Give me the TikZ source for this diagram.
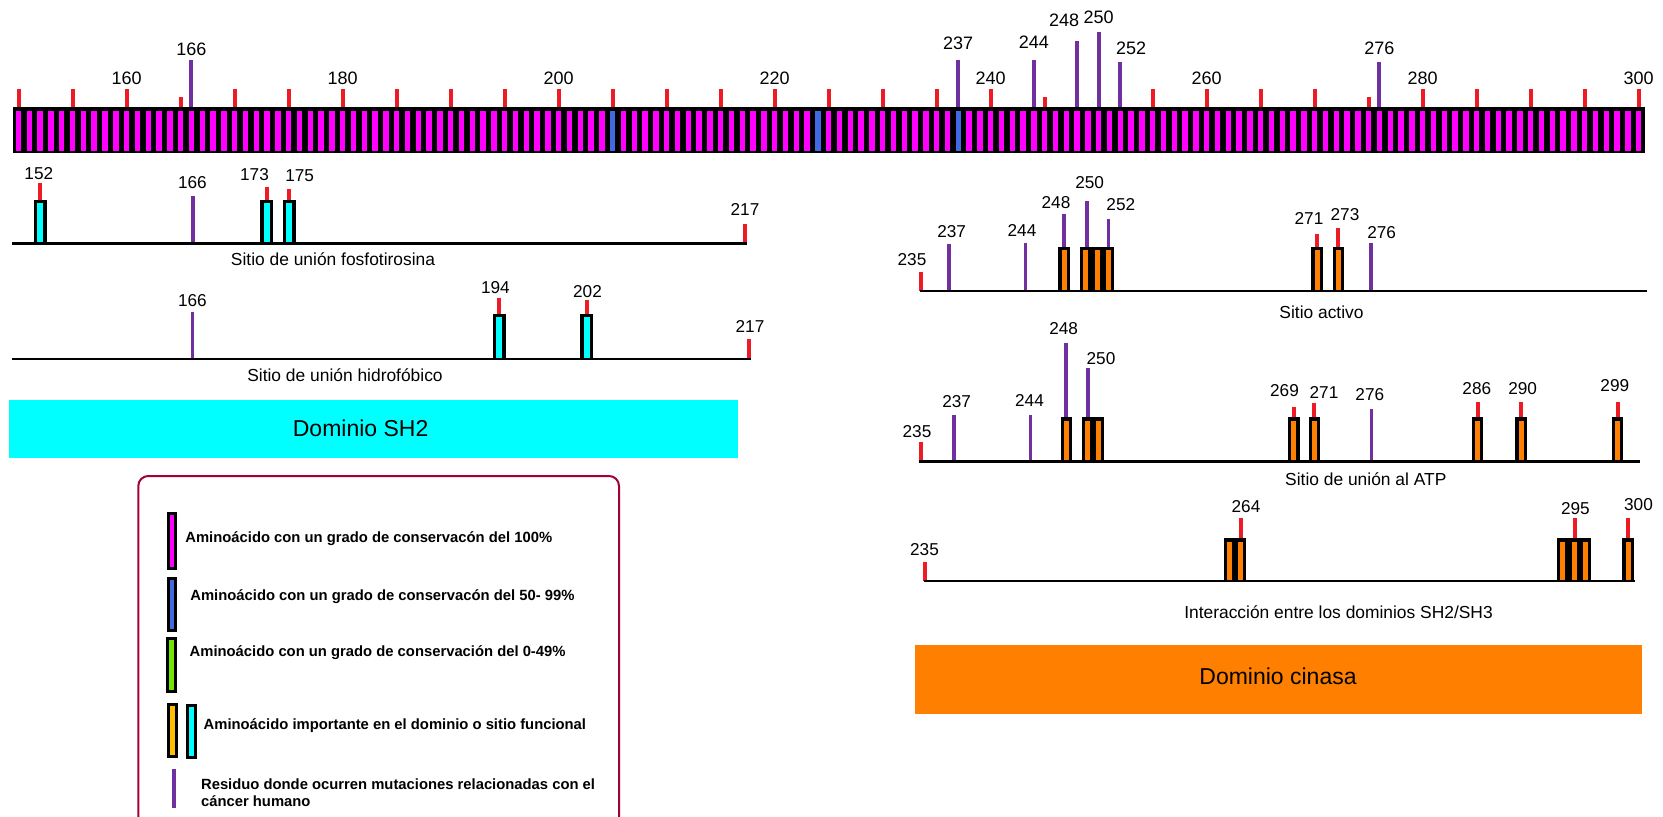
\documentclass[tikz,border=0pt]{standalone}
\usepackage{fontspec}
\setmainfont{Liberation Sans}
\definecolor{consmagenta}{RGB}{255,0,255}
\definecolor{consblue}{RGB}{65,105,225}
\definecolor{consgreen}{RGB}{110,230,0}
\definecolor{tickred}{RGB}{237,28,36}
\definecolor{mutpurple}{RGB}{112,48,160}
\definecolor{sitecyan}{RGB}{0,255,255}
\definecolor{siteorange}{RGB}{255,128,0}
\definecolor{legendorange}{RGB}{255,190,0}
\definecolor{legendframe}{RGB}{163,0,55}

\begin{document}
\begin{tikzpicture}[
  x=0.5pt, y=-0.5pt,
  topnum/.style={font=\fontsize{9}{10.5}\selectfont, inner sep=0pt},
  numlabel/.style={font=\fontsize{8.6}{10}\selectfont, inner sep=0pt},
  captext/.style={font=\fontsize{8.7}{10}\selectfont, inner sep=0pt},
  domainlabel/.style={font=\fontsize{11.5}{13}\selectfont, inner sep=0pt},
  legtext/.style={font=\fontsize{7.4}{8.7}\selectfont\bfseries, inner sep=0pt, anchor=west, align=left},
  redtick/.style={draw=tickred, line width=2pt},
  mut/.style={draw=mutpurple, line width=1.75pt},
  axisline/.style={line width=1.4pt}
]
\useasboundingbox (0,0) rectangle (1663,817);

\begin{scope}[x=5.4pt, xshift=-800.7pt]
\fill (149.44,107) rectangle (300.6,153.5);
\foreach \r in {150,...,300} \fill[consmagenta] (\r-0.25,111) rectangle (\r+0.25,151);
\foreach \r in {205,224,237} \fill[consblue] (\r-0.25,111) rectangle (\r+0.25,151);
\foreach \r in {150,155,160,170,175,180,185,190,195,200,205,210,215,220,225,230,235,240,250,255,260,265,270,280,285,290,295,300}
  \draw[redtick] (\r,89) -- (\r,107);
\foreach \r in {165,245,275} \draw[redtick] (\r,97) -- (\r,107);
\foreach \r in {160,180,...,300} \node[topnum] (t\r) at (\r,78) {\r};
\foreach \r/\h/\lx/\ly in {166/60/166/49, 237/60/237/43, 244/60/244/42, 248/41/246.8/20, 250/32/250/17, 252/62/253/48, 276/62/276/48} {
  \draw[mut, line width=2pt] (\r,\h) -- (\r,107);
  \node[topnum] (m\r) at (\lx,\ly) {\r};
}
\end{scope}

\foreach \x/\h in {40/182.7, 266.6/187.3, 289.4/189.3} \draw[redtick] (\x,\h) -- (\x,200);
\foreach \x in {40,266.6,289.4} {
  \fill (\x-6.5,200) rectangle (\x+6.5,243.3);
  \fill[sitecyan] (\x-3,203.5) rectangle (\x+3,243.3);
}
\draw[mut] (193,195.7) -- (193,243.3);
\draw[redtick] (745,224) -- (745,243.3);
\draw[axisline] (12,243.3) -- (746.5,243.3);
\foreach \n/\x/\y in {152/38.8/174, 166/192.4/182.7, 173/254.5/175, 175/299.6/176, 217/745/210}
  \node[numlabel] (a\n) at (\x,\y) {\n};
\node[captext] (capa) at (333,259) {Sitio de unión fosfotirosina};

\draw[mut] (192.4,311.7) -- (192.4,359);
\foreach \x/\h in {499.3/297.7, 586.5/300} \draw[redtick] (\x,\h) -- (\x,314);
\foreach \x in {499.3,586.5} {
  \fill (\x-6.5,314) rectangle (\x+6.5,359);
  \fill[sitecyan] (\x-3,317.5) rectangle (\x+3,359);
}
\draw[redtick] (749,339) -- (749,359);
\draw[axisline] (12,359) -- (751,359);
\foreach \n/\x/\y in {166/192.4/300.7, 194/495.4/287.7, 202/587.5/291.7, 217/750/326.7}
  \node[numlabel] (b\n) at (\x,\y) {\n};
\node[captext] (capb) at (345,375) {Sitio de unión hidrofóbico};

\fill[sitecyan] (8.5,400) rectangle (738,458);
\node[domainlabel] (sh2) at (360.6,428.5) {Dominio SH2};

\foreach \x/\h in {1064/214, 1087/200.7, 1108.4/219.3} \draw[mut] (\x,\h) -- (\x,246.7);
\foreach \x/\h in {1317/234, 1338.3/227.7} \draw[redtick] (\x,\h) -- (\x,246.7);
\foreach \x in {1064,1085.6,1097.1,1108.6,1317,1338.3} {
  \fill (\x-5.75,246.7) rectangle (\x+5.75,291);
  \fill[siteorange] (\x-2.5,250.5) rectangle (\x+2.5,291);
}
\draw[redtick] (921,272) -- (921,291);
\foreach \x/\h in {949/244, 1025.6/243, 1370.8/243.3} \draw[mut] (\x,\h) -- (\x,291);
\draw[axisline] (919.6,291) -- (1647,291);
\foreach \n/\x/\y in {235/912/260, 237/951.6/232, 244/1022/230, 248/1056/202.7, 250/1089.7/182.7, 252/1120.8/204.3, 271/1309/218.3, 273/1345/214.3, 276/1381.6/232.7}
  \node[numlabel] (c\n) at (\x,\y) {\n};
\node[captext] (capc) at (1321.5,312) {Sitio activo};

\foreach \x/\h in {1066/343.3, 1088/368.3} \draw[mut] (\x,\h) -- (\x,417);
\foreach \x/\h in {1293.8/407.3, 1314.3/403.3, 1477.5/401.7, 1521/401.7, 1617.5/401.7} \draw[redtick] (\x,\h) -- (\x,417);
\foreach \x in {1066.6,1087.6,1098.2,1293.8,1314.3,1477.5,1521,1617.5} {
  \fill (\x-5.75,417) rectangle (\x+5.75,461.7);
  \fill[siteorange] (\x-2.5,420.8) rectangle (\x+2.5,461.7);
}
\draw[redtick] (920.6,441.7) -- (920.6,461.7);
\foreach \x/\h in {954/415, 1030.5/415, 1371.3/409.3} \draw[mut] (\x,\h) -- (\x,461.7);
\draw[axisline] (918.6,461.7) -- (1639.5,461.7);
\foreach \n/\x/\y in {235/917/431.7, 237/956.6/402, 244/1029.5/400, 248/1063.6/328.3, 250/1101/358.3, 269/1284.5/390.7, 271/1324/392.3, 276/1369.8/395, 286/1476.8/388.3, 290/1522.6/388.3, 299/1614.8/385.7}
  \node[numlabel] (d\n) at (\x,\y) {\n};
\node[captext] (capd) at (1365.8,479) {Sitio de unión al ATP};

\foreach \x in {1241,1575.4,1628} \draw[redtick] (\x,518.3) -- (\x,537.7);
\foreach \x in {1229.7,1240.6,1562.7,1574,1585.3,1628} {
  \fill (\x-5.75,537.7) rectangle (\x+5.75,581);
  \fill[siteorange] (\x-2.5,541.5) rectangle (\x+2.5,581);
}
\draw[redtick] (924.5,561.7) -- (924.5,581);
\draw[axisline] (923.5,581) -- (1634.6,581);
\foreach \n/\x/\y in {235/924.5/550, 264/1246/506.7, 295/1575.4/508.3, 300/1638.5/505}
  \node[numlabel] (e\n) at (\x,\y) {\n};
\node[captext] (cape) at (1338.5,612) {Interacción entre los dominios SH2/SH3};

\fill[siteorange] (915,645) rectangle (1642,714);
\node[domainlabel] (kin) at (1278,676) {Dominio cinasa};

\draw[legendframe, line width=1pt, rounded corners=5pt] (138.3,830) -- (138.3,476) -- (619,476) -- (619,830);
\foreach \xa/\ya/\xb/\yb/\c in {166.7/511.7/177.3/570/consmagenta, 166.7/576.7/177.3/632.3/consblue, 166/636.7/177.3/693.3/consgreen, 166.7/702.7/178.3/758.3/legendorange, 186/704/196.7/759.3/sitecyan} {
  \fill (\xa,\ya) rectangle (\xb,\yb);
  \fill[\c] (\xa+3,\ya+3) rectangle (\xb-3,\yb-3);
}
\draw[mut, line width=2pt] (174.3,769) -- (174.3,808.3);
\node[legtext] (leg1) at (185,538.3) {Aminoácido con un grado de conservacón del 100\%};
\node[legtext] (leg2) at (190,596.7) {Aminoácido con un grado de conservacón del 50- 99\%};
\node[legtext] (leg3) at (189.3,652.7) {Aminoácido con un grado de conservación del 0-49\%};
\node[legtext] (leg4) at (203.3,726) {Aminoácido importante en el dominio o sitio funcional};
\node[legtext] (leg5) at (200.7,793) {Residuo donde ocurren mutaciones relacionadas con el\\cáncer humano};
\end{tikzpicture}
\end{document}
